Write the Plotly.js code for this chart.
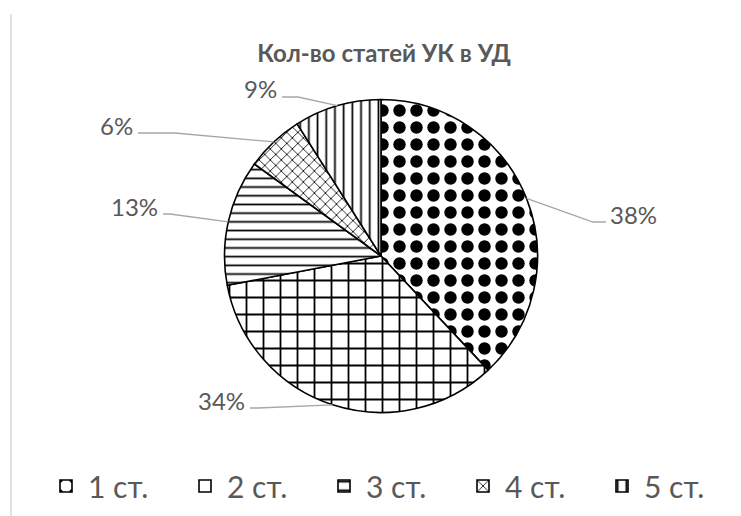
<!DOCTYPE html>
<html><head><meta charset="utf-8">
<script src="https://cdn.plot.ly/plotly-3.0.1.min.js"></script>
<style>html,body{margin:0;padding:0;background:#fff;}#chart{width:741px;height:516px;}</style>
</head><body><div id="chart"></div>
<script>
// ---- data ----
const categories = ['1 ст.', '2 ст.', '3 ст.', '4 ст.', '5 ст.'];
const values = [38, 34, 13, 6, 9];
const percentLabels = ['38%', '34%', '13%', '6%', '9%'];
const chartTitle = 'Кол-во статей УК в УД';

// ---- styling ----
const patternShapes = ['.', '+', '-', 'x', '|'];
const patternSizes = [17, 17, 8.7, 7.8, 8.7];
const patternSolidity = [0.42, 0.2, 0.2, 0.2, 0.2];

const W = 741, H = 516;
const pieCx = 381, pieCy = 256, pieR = 156.5;
const domX = [(pieCx - pieR) / W, (pieCx + pieR) / W];
const domY = [1 - (pieCy + pieR) / H, 1 - (pieCy - pieR) / H];

// label placement in pixels: text centre, stub start (by the text), elbow
const labelPlacement = [
  {tx: 633, ty: 214, sx: 606, sy: 222, ex: 593, ey: 222},
  {tx: 221, ty: 400, sx: 250, sy: 408, ex: 258, ey: 408},
  {tx: 134, ty: 206, sx: 163, sy: 214, ex: 170, ey: 214},
  {tx: 116, ty: 125, sx: 138, sy: 133, ex: 175, ey: 133},
  {tx: 260, ty: 89,  sx: 282, sy: 97,  ex: 298, ey: 97}
];

const px = x => x / W;
const py = y => 1 - y / H;

const total = values.reduce((a, b) => a + b, 0);
let cum = 0;
const shapes = [{
  type: 'line', xref: 'paper', yref: 'paper',
  x0: px(11), x1: px(11), y0: py(14), y1: 0,
  line: {color: '#d9d9d9', width: 1.5}
}];
const annotations = [];
values.forEach((v, i) => {
  const mid = (cum + v / 2) / total * 2 * Math.PI;
  cum += v;
  const edgeX = pieCx + pieR * Math.sin(mid);
  const edgeY = pieCy - pieR * Math.cos(mid);
  const L = labelPlacement[i];
  shapes.push({
    type: 'path', xref: 'paper', yref: 'paper',
    path: `M ${px(L.sx)} ${py(L.sy)} L ${px(L.ex)} ${py(L.ey)} L ${px(edgeX)} ${py(edgeY)}`,
    line: {color: '#a6a6a6', width: 1.3}
  });
  annotations.push({
    xref: 'paper', yref: 'paper', x: px(L.tx), y: py(L.ty),
    xanchor: 'center', yanchor: 'middle', showarrow: false,
    text: percentLabels[i],
    font: {family: 'Lato, sans-serif', size: 24, color: '#595959'}
  });
});

const trace = {
  type: 'pie', values: values, labels: categories,
  sort: false, direction: 'clockwise', rotation: 0,
  textinfo: 'none', hoverinfo: 'label+percent',
  domain: {x: domX, y: domY},
  marker: {
    colors: categories.map(() => '#ffffff'),
    line: {color: '#000000', width: 1.6},
    pattern: {
      shape: patternShapes, size: patternSizes, solidity: patternSolidity,
      fgcolor: '#000000', bgcolor: '#ffffff', fillmode: 'replace'
    }
  }
};

const layout = {
  width: W, height: H,
  margin: {l: 0, r: 0, t: 0, b: 0, autoexpand: false},
  paper_bgcolor: '#ffffff',
  title: {
    text: '<b>' + chartTitle + '</b>',
    font: {family: 'Lato, sans-serif', size: 24, color: '#595959'},
    x: px(384), xanchor: 'center', y: py(54), yanchor: 'middle'
  },
  showlegend: true,
  legend: {
    orientation: 'h', x: px(44), xanchor: 'left', y: py(460), yanchor: 'top',
    entrywidth: 90, itemwidth: 34, traceorder: 'normal',
    font: {family: 'Lato, sans-serif', size: 30, color: '#595959'}
  },
  shapes: shapes,
  annotations: annotations
};

Plotly.newPlot('chart', [trace], layout, {displayModeBar: false, staticPlot: true});
</script>
</body></html>
